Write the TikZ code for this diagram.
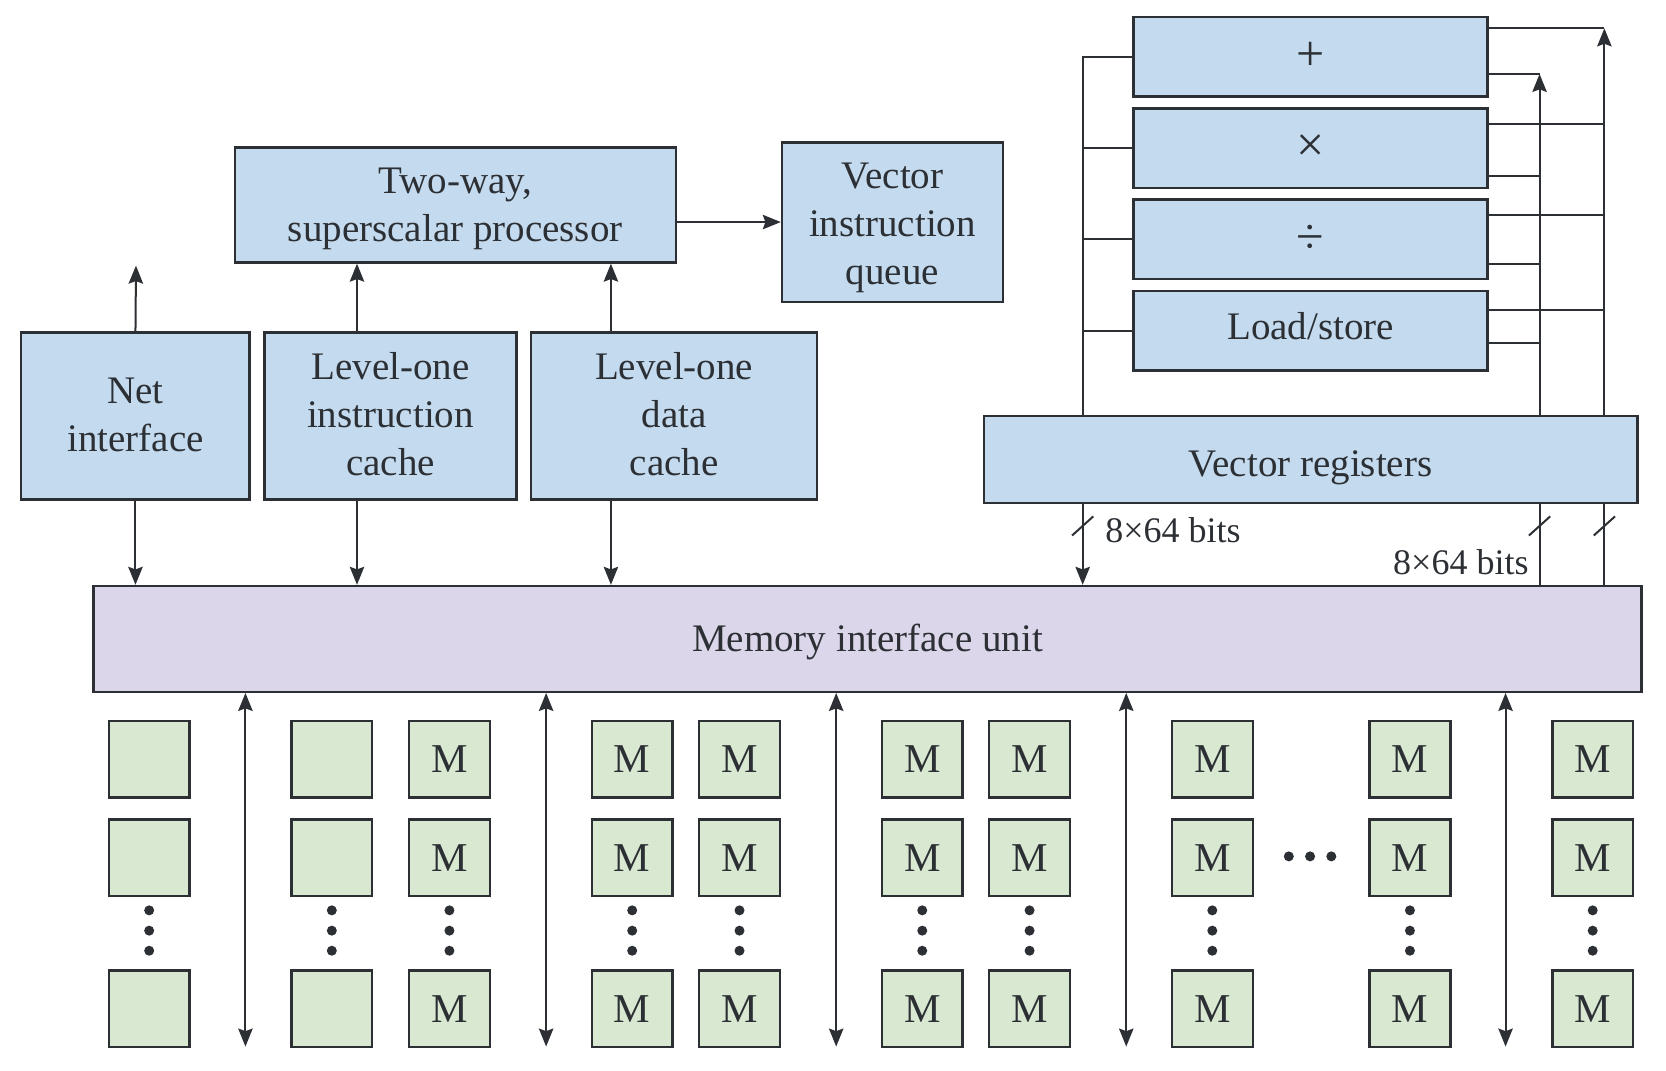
\documentclass[tikz,border=0pt]{standalone}
\usepackage{fontspec}
\setmainfont{Liberation Serif}
\usetikzlibrary{arrows.meta,calc}
\definecolor{boxblue}{HTML}{C4DAEE}
\definecolor{miucol}{HTML}{DBD6E9}
\definecolor{memg}{HTML}{D9E8D1}
\definecolor{ink}{HTML}{2C3035}
% lowered, centred text block: #1 = downward shift, #2 = lines
\newcommand\boxtext[2]{\raisebox{-#1}[\height][\depth]{\begin{tabular}{@{}c@{}}#2\end{tabular}}}
\begin{document}
\begin{tikzpicture}[x=0.53125pt,y=-0.53125pt,
  every node/.style={font=\fontsize{19.5}{24}\selectfont, text=ink},
  wh/.style 2 args={minimum width=#1*0.53125pt, minimum height=#2*0.53125pt},
  bbox/.style={draw=ink, line width=1.2pt, fill=boxblue, inner sep=0pt},
  sym/.style={font=\fontsize{25}{28}\selectfont},
  mem/.style={draw=ink, line width=1.2pt, fill=memg, inner sep=0pt, wh={76}{72}, font=\fontsize{20.5}{24}\selectfont},
  lnk/.style={draw=ink, line width=1pt},
  tip/.tip={Stealth[length=9pt,width=7.2pt,inset=1.3pt]},
  arr/.style={lnk, -tip},
  arrtwo/.style={lnk, tip-tip},
  lbl/.style={font=\fontsize{18}{22}\selectfont, inner sep=0pt}
]
\useasboundingbox (0,0) rectangle (1568,1008);

% upper-left blocks
\node[bbox, wh={415}{108}] (proc) at (428.5,193) {\boxtext{1.3pt}{Two-way,\\superscalar processor}};
\node[bbox, wh={208}{150}] (viq) at (840,209) {\boxtext{2.2pt}{Vector\\instruction\\queue}};
\node[bbox, wh={215}{157}] (net) at (127.5,391.5) {\boxtext{1pt}{Net\\interface}};
\node[bbox, wh={237}{157}] (l1i) at (367.5,391.5) {\boxtext{0.85pt}{Level-one\\instruction\\cache}};
\node[bbox, wh={269}{157}] (l1d) at (634.5,391.5) {\boxtext{0.85pt}{Level-one\\data\\cache}};

% functional units
\node[bbox, sym, wh={333}{75}] (fadd) at (1233.5,53.3) {+};
\node[bbox, sym, wh={333}{75}] (fmul) at (1233.5,139.6) {×};
\node[bbox, sym, wh={333}{75}] (fdiv) at (1233.5,225.3) {÷};
\node[bbox, wh={333}{75}] (fls) at (1233.5,311.3) {\boxtext{-0.4pt}{Load/store}};
\node[bbox, wh={615}{82}] (vr) at (1233.5,432.6) {\boxtext{3.4pt}{Vector registers}};

% memory interface unit
\node[bbox, fill=miucol, wh={1457}{99.5}] (miu) at (816.5,601.3) {\boxtext{1.6pt}{Memory interface unit}};

% helper coordinates
\coordinate (xi) at (336,0);
\coordinate (xd) at (575,0);
\coordinate (xn) at (128,250);
\coordinate (xl) at (1019,0);
\coordinate (xnr) at (1449,0);
\coordinate (xfr) at (1510,0);
\coordinate (tfar) at (1510,26.7);
\coordinate (tnear) at (1449,69.6);

% left connectors
\draw[arr] (proc.east |- viq.west) -- (viq.west);
\draw[arr] (net.north) -- (xn);
\draw[arr] (l1i.north -| xi) -- (proc.south -| xi);
\draw[arr] (l1d.north -| xd) -- (proc.south -| xd);
\draw[arr] (net.south) -- (miu.north -| net.south);
\draw[arr] (l1i.south -| xi) -- (miu.north -| xi);
\draw[arr] (l1d.south -| xd) -- (miu.north -| xd);

% functional unit inputs
\draw[lnk] (vr.north -| xl) -- (fadd.west -| xl) -- (fadd.west);
\draw[lnk] (fmul.west -| xl) -- (fmul.west);
\draw[lnk] (fdiv.west -| xl) -- (fdiv.west);
\draw[lnk] (fls.west -| xl) -- (fls.west);

% functional unit outputs
\draw[lnk] (fadd.east |- tfar) -- (tfar);
\draw[lnk] (fadd.east |- tnear) -- (tnear);
\draw[lnk] (fmul.east |- 0,116.4) -- (xfr |- 0,116.4);
\draw[lnk] (fmul.east |- 0,165.6) -- (xnr |- 0,165.6);
\draw[lnk] (fdiv.east |- 0,202.4) -- (xfr |- 0,202.4);
\draw[lnk] (fdiv.east |- 0,248.8) -- (xnr |- 0,248.8);
\draw[lnk] (fls.east |- 0,291.8) -- (xfr |- 0,291.8);
\draw[lnk] (fls.east |- 0,323.1) -- (xnr |- 0,323.1);
\draw[arr] (vr.north -| tfar) -- (tfar);
\draw[arr] (vr.north -| tnear) -- (tnear);

% vector registers <-> memory interface
\draw[arr] (vr.south -| xl) -- (miu.north -| xl);
\draw[lnk] (miu.north -| xnr) -- (vr.south -| xnr);
\draw[lnk] (miu.north -| xfr) -- (vr.south -| xfr);
\coordinate (s1) at (1019,495);
\coordinate (s2) at (1449,495);
\coordinate (s3) at (1510,495);
\foreach \s in {s1,s2,s3}
  \draw[lnk] ([shift={(-10,9)}]\s) -- ([shift={(10,-9)}]\s);
\node[lbl, anchor=west] (lab1) at (1040,499) {8×64 bits};
\node[lbl, anchor=east] (lab2) at (1439,529) {8×64 bits};

% memory banks
\foreach \c/\x/\t in {1/140.4/{},2/312.3/{},3/423/M,4/595/M,5/696/M,6/868/M,7/969/M,8/1141/M,9/1327/M,10/1499/M} {
  \node[mem] (m\c-a) at (\x,714.5) {\t};
  \node[mem] (m\c-b) at (\x,807.4) {\t};
  \node[mem] (m\c-c) at (\x,949.4) {\t};
  \foreach \y in {856.8,875.9,894.8}
    \fill[ink] (\x,\y) circle[radius=2.5pt];
}
\foreach \x in {1213,1233,1253}
  \fill[ink] (\x,806) circle[radius=2.5pt];

% bank buses
\foreach \k/\x in {1/231,2/514,3/787,4/1060,5/1417} {
  \coordinate (b\k) at (\x,985);
  \draw[arrtwo] (miu.south -| b\k) -- (b\k);
}
\end{tikzpicture}
\end{document}
